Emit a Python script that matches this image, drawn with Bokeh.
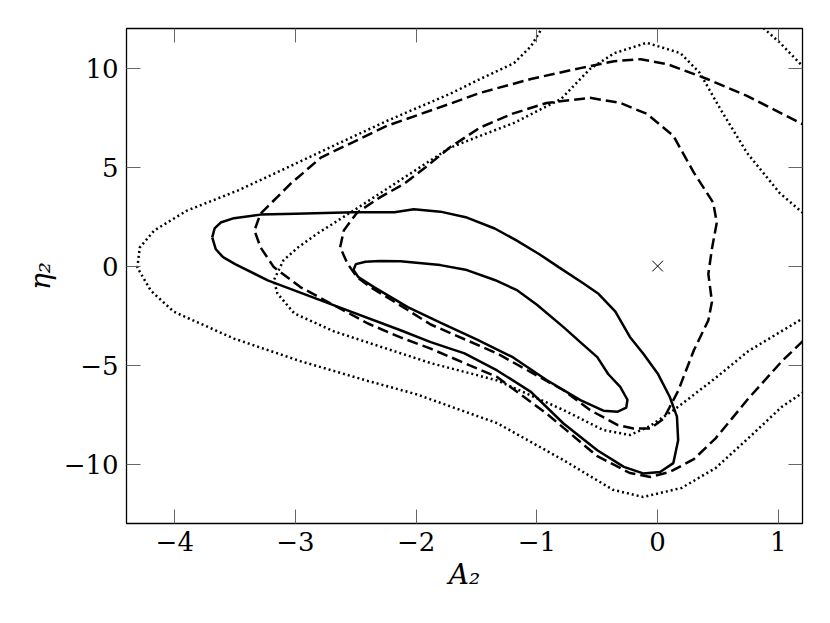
from bokeh.plotting import figure
from bokeh.models import Range1d, LinearAxis, FixedTicker, CustomLabelingPolicy
from bokeh.embed import file_html
from bokeh.resources import INLINE

# ---- axes ----
x_ticks = [-4, -3, -2, -1, 0, 1]
x_tick_labels = ["−4", "−3", "−2", "−1", "0", "1"]
y_ticks = [-10, -5, 0, 5, 10]
y_tick_labels = ["−10", "−5", "0", "5", "10"]
x_title = "A₂"
y_title = "η₂"

# ---- reference point ----
truth_A = [0.0]
truth_eta = [0.0]

# ---- solid contours ----
solid_outer_A = [-3.69, -3.67, -3.62, -3.51, -3.29, -3.0, -2.52, -2.18, -2.02, -1.8, -1.58, -1.35,
                 -1.17, -0.98, -0.82, -0.62, -0.49, -0.35, -0.23, -0.12, 0.0, 0.1, 0.16, 0.17, 0.13,
                 0.02, -0.12, -0.28, -0.5, -0.78, -1.05, -1.33, -1.6, -1.88, -2.13, -2.68, -3.23,
                 -3.5, -3.6, -3.66, -3.69]
solid_outer_eta = [1.45, 1.9, 2.2, 2.42, 2.6, 2.65, 2.72, 2.72, 2.87, 2.75, 2.45, 1.9,
                   1.3, 0.6, -0.05, -0.85, -1.4, -2.3, -3.58, -4.41, -5.42, -6.6, -7.6, -8.8, -9.95,
                   -10.4, -10.47, -10.14, -9.3, -7.95, -6.35, -5.27, -4.41, -3.84, -3.24, -1.98, -0.72,
                   0.1, 0.45, 0.85, 1.45]

solid_inner_A = [-2.52, -2.5, -2.42, -2.3, -2.13, -1.8, -1.58, -1.35, -1.17, -1.0, -0.78, -0.62,
                 -0.5, -0.41, -0.31, -0.25, -0.26, -0.33, -0.45, -0.64, -0.92, -1.2, -1.5, -1.8,
                 -2.07, -2.35, -2.48, -2.52]
solid_inner_eta = [-0.2, 0.1, 0.22, 0.26, 0.25, 0.05, -0.2, -0.7, -1.2, -1.95, -3.08, -3.95,
                   -4.6, -5.45, -6.1, -6.75, -7.15, -7.35, -7.3, -6.77, -5.75, -4.6, -3.7, -2.85,
                   -2.07, -1.06, -0.55, -0.2]

# ---- dashed contours ----
dashed_outer_A = [1.3, 1.2, 1.03, 0.75, 0.48, 0.3, 0.1, -0.06, -0.23, -0.5, -0.92, -1.33, -1.88,
                  -2.13, -2.4, -2.68, -2.96, -3.18, -3.29, -3.34, -3.29, -3.04, -2.79, -2.24, -1.72,
                  -1.47, -1.05, -0.64, -0.36, -0.14, 0.08, 0.41, 0.74, 1.18, 1.3]
dashed_outer_eta = [-3.2, -3.8, -4.8, -6.7, -8.7, -9.75, -10.4, -10.65, -10.45, -9.6, -7.45, -5.6, -4.17,
                    -3.6, -2.9, -1.98, -1.06, -0.05, 0.95, 1.8, 2.65, 4.16, 5.48, 7.09, 8.2,
                    8.75, 9.45, 10.0, 10.35, 10.45, 10.2, 9.45, 8.6, 7.23, 6.85]

dashed_inner_A = [-2.63, -2.6, -2.49, -2.3, -2.1, -1.9, -1.72, -1.47, -1.2, -0.92, -0.56, -0.31,
                  -0.09, 0.13, 0.3, 0.46, 0.49, 0.45, 0.42, 0.45, 0.42, 0.3, 0.17, 0.05, -0.06,
                  -0.2, -0.33, -0.56, -0.78, -1.33, -1.88, -2.07, -2.38, -2.49, -2.57, -2.63]
dashed_inner_eta = [0.95, 1.8, 2.7, 3.47, 4.16, 5.1, 6.0, 7.0, 7.7, 8.24, 8.5, 8.24,
                    7.69, 6.58, 4.72, 3.21, 2.2, 0.89, -0.4, -1.8, -2.74, -4.25, -6.3, -7.7, -8.2,
                    -8.2, -8.03, -7.27, -6.27, -4.41, -2.95, -2.22, -1.06, -0.56, 0.13, 0.95]

# ---- dotted contours ----
dotted_inner_A = [1.3, 1.2, 1.01, 0.74, 0.52, 0.35, 0.19, -0.09, -0.36, -0.56, -0.8, -1.19, -1.47,
                  -1.72, -2.1, -2.52, -2.82, -2.98, -3.1, -3.18, -3.15, -3.01, -2.68, -2.13, -1.88,
                  -1.33, -0.78, -0.45, -0.23, -0.07, 0.15, 0.48, 0.75, 1.2, 1.3]
dotted_inner_eta = [2.2, 2.7, 3.7, 5.72, 7.93, 9.75, 10.75, 11.28, 10.75, 9.96, 8.44, 7.23, 6.58,
                    5.98, 4.47, 2.8, 1.64, 0.94, 0.29, -0.72, -1.38, -2.39, -3.3, -4.4, -4.9,
                    -5.77, -7.27, -8.28, -8.53, -8.1, -7.2, -5.65, -4.3, -2.65, -2.3]

dotted_outer_A = [-0.9, -0.95, -1.05, -1.19, -1.47, -1.72, -2.24, -2.65, -3.07, -3.48, -3.9, -4.17,
                  -4.29, -4.31, -4.2, -4.01, -3.51, -2.96, -2.4, -2.0, -1.33, -0.78, -0.37, -0.12,
                  0.2, 0.48, 0.75, 1.03, 1.2, 1.3]
dotted_outer_eta = [12.5, 12.1, 11.1, 10.25, 9.45, 8.7, 7.34, 6.18, 4.97, 3.81, 2.8, 1.8,
                    0.94, -0.07, -1.23, -2.3, -3.66, -4.8, -5.8, -6.47, -7.93, -9.8, -11.3, -11.66,
                    -11.2, -10.2, -8.7, -7.1, -6.4, -6.1]

dotted_corner_A = [0.82, 0.88, 1.01, 1.2, 1.26]
dotted_corner_eta = [12.4, 12.0, 11.3, 10.1, 9.7]

FONT = "DejaVu Serif"

p = figure(width=820, height=613,
           x_range=Range1d(-4.4, 1.2), y_range=Range1d(-13, 12),
           output_backend="svg", toolbar_location=None,
           min_border_left=126, min_border_right=18,
           min_border_top=28, min_border_bottom=90,
           background_fill_color="white", border_fill_color="white")
p.grid.visible = False
p.outline_line_color = "black"
p.outline_line_width = 1.3

lw = 2.5
p.line(solid_outer_A, solid_outer_eta, line_color="black", line_width=lw)
p.line(solid_inner_A, solid_inner_eta, line_color="black", line_width=lw)
p.line(dashed_outer_A, dashed_outer_eta, line_color="black", line_width=lw, line_dash="11 5")
p.line(dashed_inner_A, dashed_inner_eta, line_color="black", line_width=lw, line_dash="11 5")
p.line(dotted_inner_A, dotted_inner_eta, line_color="black", line_width=2.5, line_dash="2 3")
p.line(dotted_outer_A, dotted_outer_eta, line_color="black", line_width=2.5, line_dash="2 3")
p.line(dotted_corner_A, dotted_corner_eta, line_color="black", line_width=2.5, line_dash="2 3")
p.scatter(truth_A, truth_eta, marker="x", size=15, line_color="black", line_width=1)

hide_labels = CustomLabelingPolicy(code="""
for (const i of indices) {
    indices.unset(i)
}
return indices
""")


def style_axis(ax, ticks, labels, show_labels):
    ax.ticker = FixedTicker(ticks=ticks)
    ax.major_label_overrides = {t: l for t, l in zip(ticks, labels)}
    ax.major_tick_in = 14
    ax.major_tick_out = 0
    ax.major_tick_line_color = "#666666"
    ax.major_tick_line_width = 1
    ax.minor_tick_line_color = None
    ax.axis_line_color = None
    ax.major_label_text_font = FONT
    ax.major_label_text_color = "black"
    if show_labels:
        ax.major_label_text_font_size = "26px"
        ax.major_label_standoff = 8
    else:
        ax.major_label_text_font_size = "1px"
        ax.major_label_standoff = 0
        ax.major_label_policy = hide_labels


xax = p.xaxis[0]
yax = p.yaxis[0]
style_axis(xax, x_ticks, x_tick_labels, True)
style_axis(yax, y_ticks, y_tick_labels, True)
xax.axis_label = x_title
yax.axis_label = y_title
for ax in (xax, yax):
    ax.axis_label_text_font = FONT
    ax.axis_label_text_font_style = "italic"
    ax.axis_label_text_font_size = "28px"
    ax.axis_label_text_color = "black"
    ax.axis_label_standoff = 4

top_ax = LinearAxis()
right_ax = LinearAxis()
style_axis(top_ax, x_ticks, x_tick_labels, False)
style_axis(right_ax, y_ticks, y_tick_labels, False)
p.add_layout(top_ax, "above")
p.add_layout(right_ax, "right")

open("out.html", "w").write(file_html(p, INLINE))
